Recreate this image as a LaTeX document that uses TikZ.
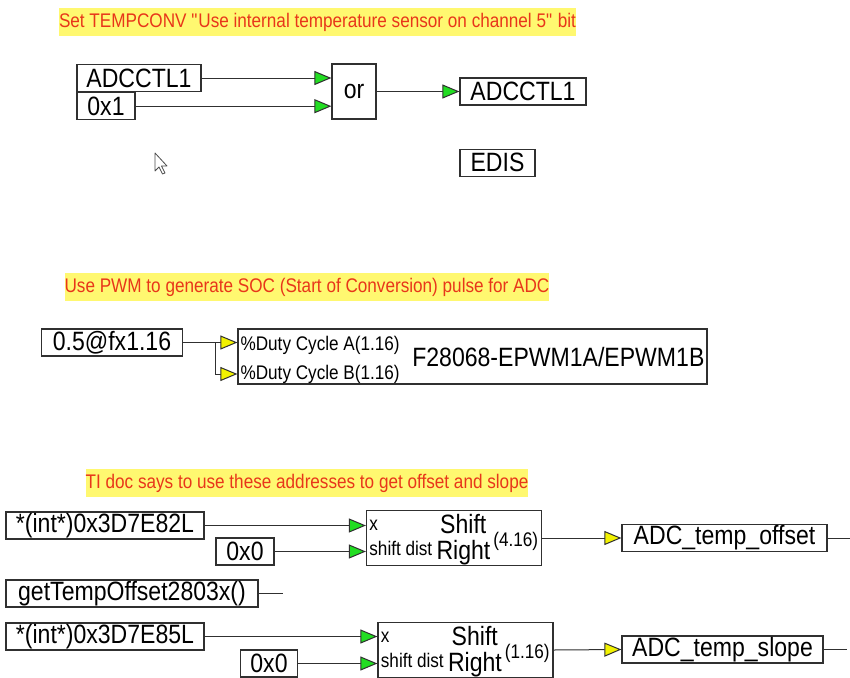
\documentclass[tikz,border=0pt]{standalone}
\usepackage{fontspec}
\setmainfont{Liberation Sans}[FakeStretch=0.87]
\usepackage{tikz}
\usetikzlibrary{arrows.meta, positioning, calc}
\definecolor{PinGreen}{HTML}{22DD22}
\definecolor{PinYellow}{HTML}{F2F200}
\definecolor{NoteYellow}{HTML}{FFF870}
\definecolor{NoteRed}{HTML}{E8361A}
\definecolor{WireGray}{HTML}{303030}
\newcommand{\blkfont}{\fontsize{26.5}{29}\selectfont}
\newcommand{\pinfont}{\fontsize{19.7}{22}\selectfont}

\begin{document}
\begin{tikzpicture}[
  x=1pt, y=-1pt,
  box/.style={rectangle, draw=WireGray, line width=1.2pt, fill=white,
              inner sep=0pt, minimum height=27pt, font=\blkfont},
  note/.style={rectangle, fill=NoteYellow, text=NoteRed, inner sep=0pt,
               minimum height=28pt, font=\pinfont},
  pin/.style={inner sep=0pt, font=\pinfont},
  big/.style={inner sep=0pt, font=\blkfont},
  arr/.style={line width=1pt, WireGray},
  garr/.style={arr, -{Triangle[length=17pt, width=14pt, fill=PinGreen]}},
  yarr/.style={arr, -{Triangle[length=17pt, width=14pt, fill=PinYellow]}},
]
\useasboundingbox (0,0) rectangle (850,677);

% --- TEMPCONV bit
\node[note, minimum width=509pt] (note1) at (317.5,22)
  {Set TEMPCONV \textquotedbl Use internal temperature sensor on channel 5\textquotedbl\ bit};
\node[box, minimum width=124pt] (adcIn) at (139,78) {ADCCTL1};
\node[box, minimum width=58pt, anchor=north west] (hexOne) at (adcIn.south west) {0x1};
\node[box, minimum width=44pt, minimum height=55pt] (orGate) at (354,91.5) {or};
\node[box, minimum width=126pt] (adcOut) at (523,91.5) {ADCCTL1};
\node[box, minimum width=75pt, below right=43pt and 0pt of adcOut.south west] (edis) {EDIS};

% mouse pointer
\draw[fill=white, draw=black!70, line width=0.8pt, line join=round]
  (155,153) -- ++(0,18) -- ++(4,-4) -- ++(3.5,7) -- ++(2.5,-1)
  -- ++(-3.5,-7) -- ++(5.5,0) -- cycle;

\draw[garr] (adcIn.east) -- (adcIn.east -| orGate.west);
\draw[garr] (hexOne.east) -- (hexOne.east -| orGate.west);
\draw[garr] (orGate.east) -- (adcOut.west);

% --- PWM
\node[note, minimum width=484pt] (note2) at (307,287)
  {Use PWM to generate SOC (Start of Conversion) pulse for ADC};
\node[box, minimum width=141pt] (dutyIn) at (112,342.5) {0.5@fx1.16};
\node[box, minimum width=469pt, minimum height=55pt] (pwm) at (472.5,356.5) {};
\node[pin, anchor=base west] (dutyA) at ([shift={(3,-6.5)}]pwm.west) {\%Duty Cycle A(1.16)};
\node[pin, anchor=base west] (dutyB) at ([shift={(3,22.5)}]pwm.west) {\%Duty Cycle B(1.16)};
\node[big, anchor=base east] (pwmName) at ([shift={(-3,9.5)}]pwm.east) {F28068-EPWM1A/EPWM1B};

\coordinate (fork) at (215,342.5);
\coordinate (pinA) at (pwm.west |- fork);
\coordinate (pinB) at ([shift={(0,31.5)}]pinA);
\draw[arr] (dutyIn.east) -- (fork);
\draw[yarr] (fork) -- (pinA);
\draw[yarr] (fork) |- (pinB);

% --- offset and slope
\node[note, minimum width=442pt] (note3) at (307,483)
  {TI doc says to use these addresses to get offset and slope};
\node[box, minimum width=198pt] (addr1) at (105,525.5) {*(int*)0x3D7E82L};
\node[box, minimum width=58pt] (zero1) at (245,551.5) {0x0};
\node[box, minimum width=175pt, minimum height=55pt] (shift1) at (454,538) {};
\node[box, minimum width=205pt] (offsetOut) at (724.5,538) {ADC\_temp\_offset};
\coordinate (offsetEnd) at (850,538);

\node[box, minimum width=252pt] (getTemp) at (132,593.5) {getTempOffset2803x()};
\coordinate (getTempEnd) at (283,593.5);

\node[box, minimum width=198pt] (addr2) at (105,636.5) {*(int*)0x3D7E85L};
\node[box, minimum width=57pt] (zero2) at (269,663.5) {0x0};
\node[box, minimum width=175pt, minimum height=55pt] (shift2) at (465.5,650) {};
\node[box, minimum width=201pt] (slopeOut) at (722.5,649.5) {ADC\_temp\_slope};
\coordinate (slopeEnd) at (847,649.5);

\foreach \blk/\fmt in {shift1/4.16, shift2/1.16} {
  \node[pin, anchor=base west] (\blk-x) at ([shift={(3.3,-8)}]\blk.west) {x};
  \node[pin, anchor=base west] (\blk-dist) at ([shift={(3.3,17)}]\blk.west) {shift dist};
  \node[big, anchor=base] (\blk-top) at ([shift={(9.3,-4.7)}]\blk.center) {Shift};
  \node[big, anchor=base] (\blk-bot) at ([shift={(9.5,21.5)}]\blk.center) {Right};
  \node[pin, anchor=base east] (\blk-fmt) at ([shift={(-3.7,8)}]\blk.east) {(\fmt)};
}

\draw[garr] (addr1.east) -- (addr1.east -| shift1.west);
\draw[garr] (zero1.east) -- (zero1.east -| shift1.west);
\draw[yarr] (shift1.east) -- (offsetOut.west);
\draw[arr] (offsetOut.east) -- (offsetEnd);
\draw[arr] (getTemp.east) -- (getTempEnd);
\draw[garr] (addr2.east) -- (addr2.east -| shift2.west);
\draw[garr] (zero2.east) -- (zero2.east -| shift2.west);
\draw[yarr] (shift2.east) -- (slopeOut.west);
\draw[arr] (slopeOut.east) -- (slopeEnd);

\end{tikzpicture}
\end{document}
